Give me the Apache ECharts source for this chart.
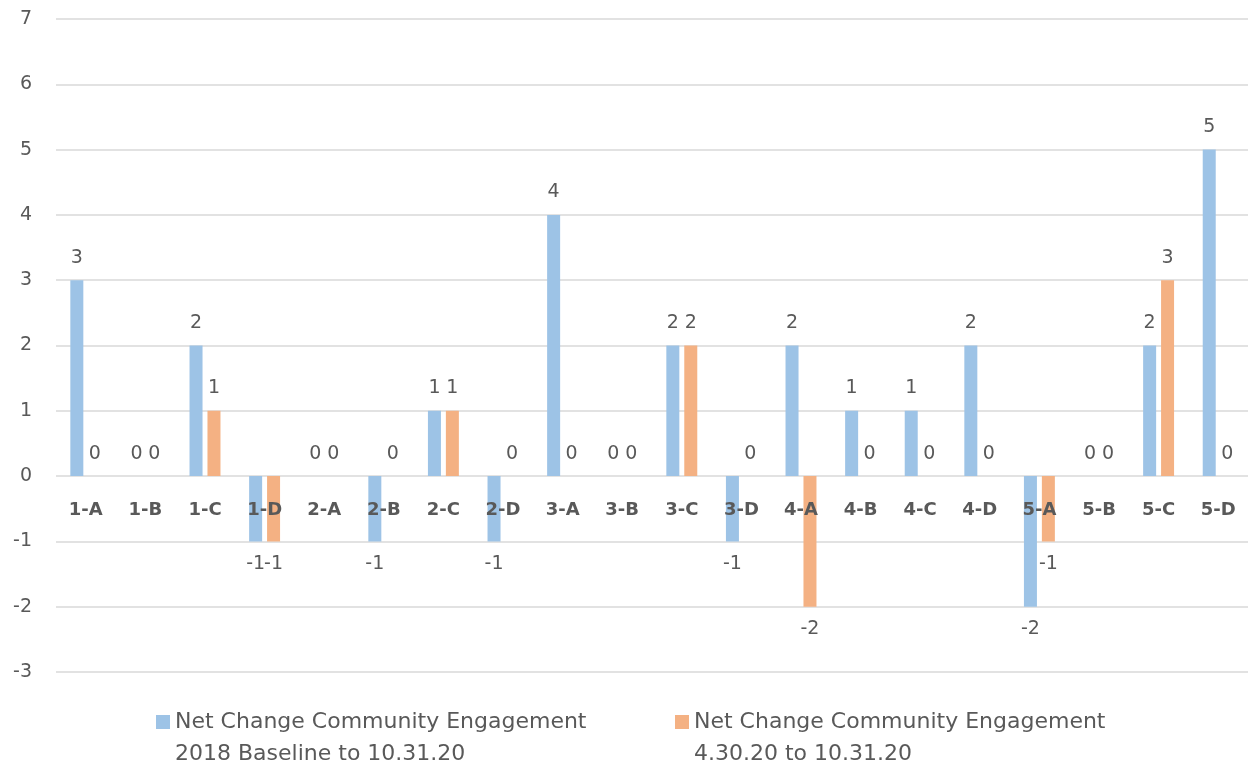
<!DOCTYPE html>
<html><head><meta charset="utf-8">
<script src="https://cdn.jsdelivr.net/npm/echarts@6/dist/echarts.min.js"></script>
<style>html,body{margin:0;padding:0;background:#fff}#c{width:1248px;height:770px}</style>
</head><body><div id="c"></div>
<script>
const categories = ['1-A','1-B','1-C','1-D','2-A','2-B','2-C','2-D','3-A','3-B','3-C','3-D','4-A','4-B','4-C','4-D','5-A','5-B','5-C','5-D'];
const baselineValues = [3,0,2,-1,0,-1,1,-1,4,0,2,-1,2,1,1,2,-2,0,2,5];
const recentValues = [0,0,1,-1,0,0,1,0,0,0,2,0,-2,0,0,0,-1,0,3,0];
const seriesNames = ['Net Change Community Engagement\n2018 Baseline to 10.31.20', 'Net Change Community Engagement\n4.30.20 to 10.31.20'];
const yMin = -3, yMax = 7, yStep = 1;

const FONT = '"DejaVu Sans", sans-serif';
const labelStyle = {show: true, color: '#595959', fontSize: 19, fontFamily: FONT, distance: 13};
function toData(arr){
  return arr.map(v => ({value: v, label: {position: v < 0 ? 'bottom' : 'top'}}));
}
const legendText = {color: '#595959', fontSize: 22, fontFamily: FONT, lineHeight: 32};
const chart = echarts.init(document.getElementById('c'), null, {renderer: 'canvas'});
chart.setOption({
  animation: false,
  backgroundColor: '#fff',
  grid: {left: 56, right: 0, top: 19, bottom: 98, containLabel: false},
  legend: [
    {data: [seriesNames[0]], left: 151, top: 669, itemWidth: 14, itemHeight: 14, icon: 'rect',
     formatter: n => '\n' + n, textStyle: legendText},
    {data: [seriesNames[1]], left: 670, top: 669, itemWidth: 14, itemHeight: 14, icon: 'rect',
     formatter: n => '\n' + n, textStyle: legendText}
  ],
  xAxis: {
    type: 'category', data: categories, z: 5, position: 'bottom', offset: -196,
    axisLine: {show: false, onZero: false},
    axisTick: {show: false},
    axisLabel: {color: '#595959', fontSize: 18, fontWeight: 'bold', fontFamily: FONT, margin: 25}
  },
  yAxis: {
    type: 'value', min: yMin, max: yMax, interval: yStep,
    axisLine: {show: false}, axisTick: {show: false},
    axisLabel: {color: '#595959', fontSize: 19, fontFamily: FONT, margin: 24},
    splitLine: {lineStyle: {color: '#d9d9d9', width: 1.5}}
  },
  series: [
    {name: seriesNames[0], type: 'bar', data: toData(baselineValues), barWidth: 13, barGap: '38%',
     itemStyle: {color: '#9dc3e6'}, label: labelStyle},
    {name: seriesNames[1], type: 'bar', data: toData(recentValues), barWidth: 13, barGap: '38%',
     itemStyle: {color: '#f4b183'}, label: labelStyle}
  ]
});
</script></body></html>
